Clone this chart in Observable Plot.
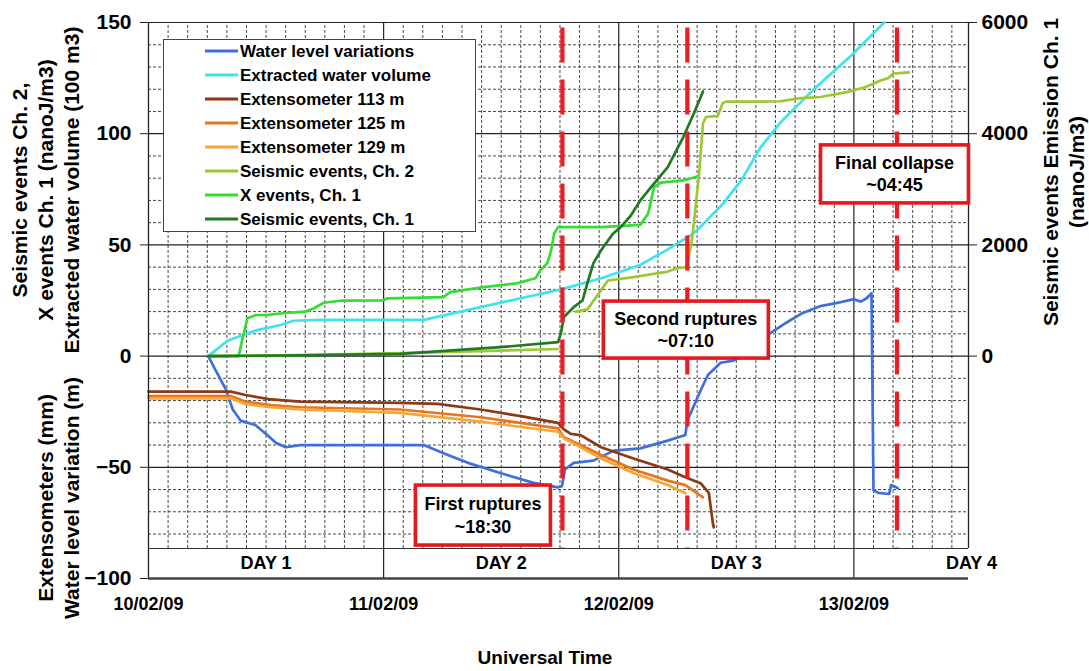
<!DOCTYPE html>
<html><head><meta charset="utf-8">
<script src="https://cdn.jsdelivr.net/npm/d3@7"></script>
<script src="https://cdn.jsdelivr.net/npm/@observablehq/plot@0.6"></script>
<style>
html,body{margin:0;padding:0;background:#fff;}
#chart{position:relative;width:1089px;height:671px;overflow:hidden;}
</style></head><body><div id="chart"></div>
<script>
// ---------------- DATA (hours since 10/02/09 00:00 UT, value) ----------------
const seriesNames = ["Water level variations","Extracted water volume","Extensometer 113 m","Extensometer 125 m","Extensometer 129 m","Seismic events, Ch. 2","X events, Ch. 1","Seismic events, Ch. 1"];
const seriesColors = ["#3E6FDC","#3EE3F0","#8B3A14","#E8741E","#F6A634","#9CC832","#33DD33","#1E7B22"];

const waterLevel = [[6.1,0],[6.8,-6],[7.9,-15],[8.6,-24],[9.4,-29],[10.9,-31],[12.0,-35],[13.0,-39],[14.0,-41],[15.5,-40],[28.1,-40],[30.3,-44],[32.6,-48],[35.9,-52.6],[39.3,-57],[41.8,-59],[42.2,-58.5],[42.5,-51],[43.4,-48],[45.4,-47],[47.5,-42.5],[50.2,-41.5],[53.0,-38],[54.8,-35.5],[55.0,-29],[56.4,-15],[57.1,-8.5],[58.4,-3],[59.7,-2],[61.5,2],[63.2,9.5],[65.1,15],[66.6,19],[68.6,22.5],[70.7,24.3],[72.0,25.6],[72.7,24.5],[73.3,26],[73.8,28.3],[74.0,-60.2],[74.5,-61.5],[75.6,-62],[75.8,-58],[76.1,-58.5],[76.5,-59.5]];
const extractedVolume = [[6.1,0],[8.1,7],[9.4,9],[11.1,11.7],[13.5,14],[14.8,15.9],[17.6,16.3],[28.1,16.3],[33.9,22],[38.0,26],[42.1,30],[46.2,35],[50.2,41],[53.0,48],[55.4,54.5],[56.2,57.5],[58.7,68.8],[60.5,79],[62.5,94],[64.5,105],[67.8,119.5],[71.7,135],[75.1,150]];
const ext113 = [[0,-16],[8.4,-16],[9.9,-17.5],[12.5,-19.5],[15.5,-20.5],[25.7,-21],[29.5,-21.5],[33.9,-24],[38.0,-27],[41.8,-30],[42.4,-33],[43.1,-35],[44.1,-35.5],[46.2,-41],[49.5,-46],[53.0,-51],[54.8,-54.5],[56.4,-57.3],[57.2,-61.6],[57.6,-75],[57.7,-77]];
const ext125 = [[0,-18],[8.4,-18],[9.9,-20.5],[12.5,-22],[15.5,-23],[25.7,-24],[33.9,-27.5],[41.8,-32.5],[42.4,-36.5],[44.1,-40],[46.2,-44.5],[49.5,-51],[53.0,-56],[54.8,-58],[56.6,-63.5]];
const ext129 = [[0,-19],[8.4,-19],[9.9,-21.5],[12.5,-23],[15.5,-24],[25.7,-25.5],[33.9,-29.5],[41.8,-34],[42.4,-37],[44.1,-41],[46.2,-46],[49.5,-52.6],[53.0,-58],[54.8,-61.6]];
const seismicCh2 = [[6.1,0],[15.5,0.5],[25.7,1.3],[35.9,2.5],[41.8,3.2],[42.9,null],[43.6,20],[44.8,21],[46.9,34],[49.5,35.5],[53.0,38],[54.0,39.5],[54.9,40],[55.4,50],[55.7,61],[56.2,82],[56.6,104.7],[56.9,107.5],[58.1,108],[58.6,113.7],[58.9,114.4],[62.5,114.4],[64.5,114.6],[66.6,116],[68.6,116.5],[71.4,118.8],[73.2,121],[74.8,124],[75.5,125],[76.0,127],[77.6,127.6]];
const xEventsCh1 = [[6.1,0],[9.2,0],[9.6,8],[10.1,17],[10.9,18.4],[12.2,18.5],[14.2,19.5],[16.0,20],[16.9,21.5],[17.9,24],[19.6,24.9],[23.9,25],[24.4,26],[30.1,26.5],[30.8,28.8],[34.2,31],[37.7,32.8],[39.5,35],[40.0,38.6],[40.7,41.7],[41.1,47.6],[41.4,55],[41.8,58],[46.2,58],[50.2,59],[51.0,64],[51.6,76],[52.3,78],[54.6,79],[55.4,80],[55.9,80.6]];
// right axis units (nanoJ/m3)
const seismicCh1 = [[6.1,0],[15.5,12],[25.7,40],[35.9,160],[41.8,252],[42.1,412],[42.4,704],[43.4,880],[44.3,1000],[44.8,1312],[45.4,1668],[46.2,1904],[47.4,2200],[48.2,2320],[49.2,2520],[50.2,2800],[51.3,3040],[53.0,3400],[54.6,3944],[55.7,4376],[56.6,4760]];

const yTicksLeft = [-100,-50,0,50,100,150];
const yTicksRight = [0,2000,4000,6000];
const dateTicks = ["10/02/09","11/02/09","12/02/09","13/02/09"];
const dayLabels = ["DAY 1","DAY 2","DAY 3","DAY 4"];
const ruptureHours = [42.25, 55.0, 76.4];   // red dashed lines (as drawn)
const ruptureLabels = ["First ruptures\n~18:30","Second ruptures\n~07:10","Final collapse\n~04:45"];

const leftTitleTop = ["Seismic events Ch. 2,","X events Ch. 1 (nanoJ/m3)","Extracted water volume (100 m3)"];
const leftTitleBottom = ["Extensometers (mm)","Water level variation (m)"];
const rightTitle = ["Seismic events Emission Ch. 1","(nanoJ/m3)"];
const xTitle = "Universal Time";

// ---------------- BUILD ----------------
const T0 = Date.UTC(2009, 1, 10);
const toDate = h => new Date(T0 + h * 3600e3);
const RIGHT_PER_LEFT = 6000 / 150;
const X_END = 83.7, BAND_TOP = -86.5;

const seriesData = [waterLevel, extractedVolume, ext113, ext125, ext129, seismicCh2, xEventsCh1,
  seismicCh1.map(([h, v]) => [h, v / RIGHT_PER_LEFT])];
const rows = seriesData.flatMap((arr, i) => arr.map(([h, v]) => ({t: toDate(h), v: v == null ? NaN : v, s: seriesNames[i]})));

const minorY = d3.range(-80, 150, 10).filter(v => v % 50 !== 0);
const majorY = [-50, 0, 50, 100, 150];
const minorX = d3.range(2, X_END, 2).filter(h => h % 24 !== 0).map(toDate);
const dayStarts = [24, 48, 72].map(toDate);
const tickDates = [0, 24, 48, 72].map(toDate);
const font = '"Liberation Sans", Arial, Helvetica, sans-serif';

const plot = Plot.plot({
  width: 1089, height: 671,
  marginLeft: 148, marginRight: 121, marginTop: 22, marginBottom: 93,
  x: {type: "utc", domain: [toDate(0), toDate(X_END)]},
  y: {domain: [-100, 150]},
  color: {domain: seriesNames, range: seriesColors},
  style: {fontFamily: font, fontWeight: "bold", color: "#000", background: "#fff", overflow: "visible"},
  marks: [
    Plot.ruleY(minorY, {stroke: "#333", strokeWidth: 0.9, strokeDasharray: "3,2"}),
    Plot.ruleX(minorX, {y1: BAND_TOP, y2: 150, stroke: "#333", strokeWidth: 0.9, strokeDasharray: "3,2"}),
    Plot.ruleY(majorY, {stroke: "#222", strokeWidth: 1.2}),
    Plot.ruleX(dayStarts, {y1: -100, y2: 150, stroke: "#222", strokeWidth: 1.2}),
    Plot.line(rows, {x: "t", y: "v", z: "s", stroke: "s", strokeWidth: 2.7, strokeLinejoin: "round", strokeLinecap: "round"}),
    Plot.ruleX(ruptureHours.map(toDate), {y1: 147.5, y2: -100, stroke: "#EE1D23", strokeWidth: 4.2, strokeDasharray: "35,17"}),
    Plot.rect([0], {x1: () => toDate(0), x2: () => toDate(X_END), y1: -100, y2: BAND_TOP, fill: "white"}),
    Plot.ruleY([BAND_TOP], {stroke: "#333", strokeWidth: 1.2}),
    Plot.ruleX(dayStarts, {y1: -100, y2: BAND_TOP, stroke: "#222", strokeWidth: 1.2}),
    Plot.text(dayLabels, {x: (d, i) => toDate(12 + 24 * i), y: -93.3, text: d => d, fontSize: 18, fontWeight: "bold", fill: "#000"}),
    Plot.axisY({ticks: yTicksLeft, tickSize: 8, tickPadding: 9, fontSize: 21, label: null, stroke: "#222"}),
    Plot.axisY({anchor: "right", ticks: yTicksRight.map(v => v / RIGHT_PER_LEFT), tickFormat: d => String(d * RIGHT_PER_LEFT), tickSize: 8, tickPadding: 5, fontSize: 21, label: null, stroke: "#222"}),
    Plot.axisX({ticks: tickDates, tickFormat: (d, i) => dateTicks[i], tickSize: 0, tickPadding: 19, fontSize: 18, label: null}),
    Plot.ruleX([0], {x: () => toDate(0), y1: -100, y2: 150, stroke: "#222", strokeWidth: 1.3}),
    Plot.ruleX([0], {x: () => toDate(X_END), y1: BAND_TOP, y2: 150, stroke: "#222", strokeWidth: 1.3}),
    Plot.ruleY([-100], {stroke: "#444", strokeWidth: 2.6})
  ]
});
document.getElementById("chart").appendChild(plot);

const svg = d3.select(plot);
const sx = plot.scale("x"), sy = plot.scale("y");

// annotation boxes (placement relative to rupture lines)
const annLayout = [{dx: -79, y: -71.7, w: 135, h: 60}, {dx: -1, y: 11.7, w: 165, h: 57}, {dx: -2, y: 81.7, w: 148, h: 58}];
ruptureLabels.forEach((lab, i) => {
  const L = annLayout[i];
  const cx = sx.apply(toDate(ruptureHours[i])) + L.dx, cy = sy.apply(L.y);
  const g = svg.append("g");
  g.append("rect").attr("x", cx - L.w / 2).attr("y", cy - L.h / 2).attr("width", L.w).attr("height", L.h)
    .attr("fill", "#fff").attr("stroke", "#E3191E").attr("stroke-width", 3.6);
  const lines = lab.split("\n");
  lines.forEach((s, j) => {
    g.append("text").attr("x", cx).attr("y", cy + (j - 0.5) * 22.5).attr("dy", "0.35em")
      .attr("text-anchor", "middle").attr("font-size", 18).attr("font-weight", "bold").attr("font-family", font).text(s);
  });
});

// legend
const lg = svg.append("g");
lg.append("rect").attr("x", 163.5).attr("y", 39.5).attr("width", 312).attr("height", 192).attr("fill", "#fff").attr("stroke", "#444").attr("stroke-width", 1);
seriesNames.forEach((n, i) => {
  const y = 51 + i * 24;
  lg.append("line").attr("x1", 205).attr("x2", 238).attr("y1", y).attr("y2", y).attr("stroke", seriesColors[i]).attr("stroke-width", 3);
  lg.append("text").attr("x", 240).attr("y", y).attr("dy", "0.35em").attr("text-anchor", "start").attr("font-size", 17).attr("font-weight", "bold").attr("font-family", font).text(n);
});

// axis titles
function vtext(x, y, s, size) {
  svg.append("text").attr("transform", `translate(${x},${y}) rotate(-90)`).attr("text-anchor", "middle")
    .attr("dy", "0.35em").attr("font-size", size).attr("font-weight", "bold").attr("font-family", font).text(s);
}
leftTitleTop.forEach((s, i) => vtext(20 + i * 26, 190, s, 21));
leftTitleBottom.forEach((s, i) => vtext(46 + i * 26, 498, s, 21));
rightTitle.forEach((s, i) => vtext(1051 + i * 26, 172, s, 21));
svg.append("text").attr("x", 545).attr("y", 664).attr("text-anchor", "middle").attr("font-size", 19)
  .attr("font-weight", "bold").attr("font-family", font).text(xTitle);
</script></body></html>
